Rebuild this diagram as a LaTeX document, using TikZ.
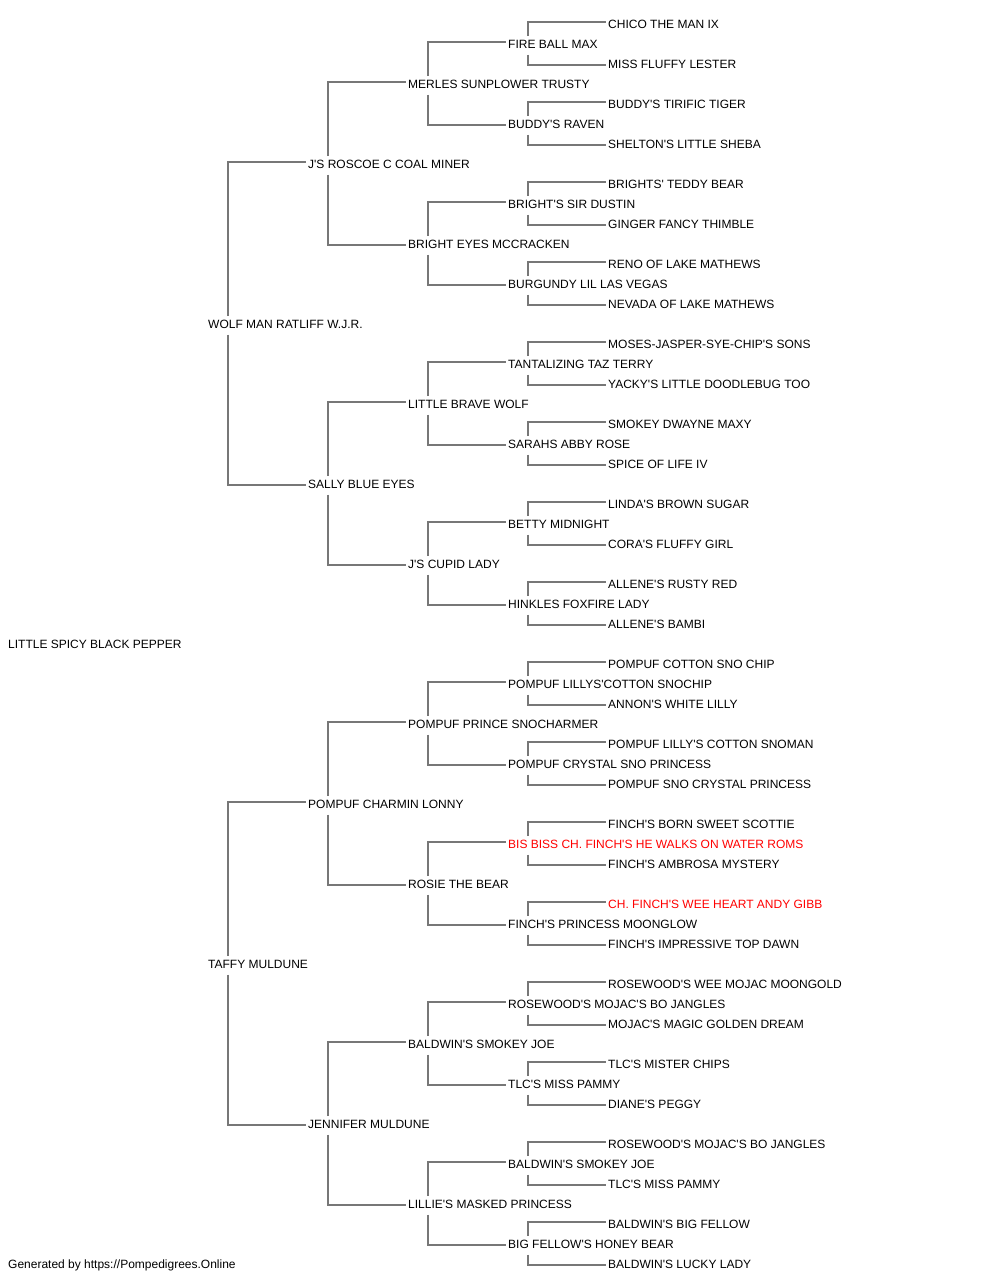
\documentclass[tikz,border=0pt]{standalone}
\usepackage{fontspec}
\setmainfont{Liberation Sans}[Ligatures=TeXOff]
\usepackage{tikz}
\usetikzlibrary{positioning}
\definecolor{linegray}{RGB}{119,119,119}
\definecolor{champred}{RGB}{255,0,0}

\begin{document}
\begin{tikzpicture}[
    x=1pt, y=-1pt,
    dog/.style={anchor=west, yshift=-1.3pt, inner xsep=2pt, inner ysep=2pt, text height=10pt, text depth=4pt, font=\fontsize{12}{14}\selectfont},
    champ/.style={dog, text=champred},
    link/.style={draw=linegray, line width=2pt},
    sire/.style={yshift=3.3pt}
]
    \useasboundingbox (0,0) rectangle (1000,1280);

    % Generation 0 and 1
    \node[dog] (pepper) at (6,644) {LITTLE SPICY BLACK PEPPER};
    \node[dog] (wolfman) at (206,324) {WOLF MAN RATLIFF W.J.R.};
    \node[dog] (taffy) at (206,964) {TAFFY MULDUNE};

    % Generation 2
    \node[dog] (roscoe) at (306,164) {J'S ROSCOE C COAL MINER};
    \node[dog] (sally) at (306,484) {SALLY BLUE EYES};
    \node[dog] (lonny) at (306,804) {POMPUF CHARMIN LONNY};
    \node[dog] (jennifer) at (306,1124) {JENNIFER MULDUNE};

    % Generation 3
    \node[dog] (merles) at (406,84) {MERLES SUNPLOWER TRUSTY};
    \node[dog] (brighteyes) at (406,244) {BRIGHT EYES MCCRACKEN};
    \node[dog] (bravewolf) at (406,404) {LITTLE BRAVE WOLF};
    \node[dog] (cupid) at (406,564) {J'S CUPID LADY};
    \node[dog] (snocharmer) at (406,724) {POMPUF PRINCE SNOCHARMER};
    \node[dog] (rosie) at (406,884) {ROSIE THE BEAR};
    \node[dog] (smokeyjoe) at (406,1044) {BALDWIN'S SMOKEY JOE};
    \node[dog] (lillie) at (406,1204) {LILLIE'S MASKED PRINCESS};

    % Generation 4
    \node[dog] (fireball) at (506,44) {FIRE BALL MAX};
    \node[dog] (raven) at (506,124) {BUDDY'S RAVEN};
    \node[dog] (dustin) at (506,204) {BRIGHT'S SIR DUSTIN};
    \node[dog] (burgundy) at (506,284) {BURGUNDY LIL LAS VEGAS};
    \node[dog] (tantalizing) at (506,364) {TANTALIZING TAZ TERRY};
    \node[dog] (sarahs) at (506,444) {SARAHS ABBY ROSE};
    \node[dog] (betty) at (506,524) {BETTY MIDNIGHT};
    \node[dog] (hinkles) at (506,604) {HINKLES FOXFIRE LADY};
    \node[dog] (snochip) at (506,684) {POMPUF LILLYS'COTTON SNOCHIP};
    \node[dog] (crystal) at (506,764) {POMPUF CRYSTAL SNO PRINCESS};
    \node[champ] (walks) at (506,844) {BIS BISS CH. FINCH'S HE WALKS ON WATER ROMS};
    \node[dog] (moonglow) at (506,924) {FINCH'S PRINCESS MOONGLOW};
    \node[dog] (bojangles) at (506,1004) {ROSEWOOD'S MOJAC'S BO JANGLES};
    \node[dog] (pammy) at (506,1084) {TLC'S MISS PAMMY};
    \node[dog] (smokeyjoeb) at (506,1164) {BALDWIN'S SMOKEY JOE};
    \node[dog] (honeybear) at (506,1244) {BIG FELLOW'S HONEY BEAR};

    % Generation 5
    \node[dog] (chico) at (606,24) {CHICO THE MAN IX};
    \node[dog] (fluffy) at (606,64) {MISS FLUFFY LESTER};
    \node[dog] (tiger) at (606,104) {BUDDY'S TIRIFIC TIGER};
    \node[dog] (sheba) at (606,144) {SHELTON'S LITTLE SHEBA};
    \node[dog] (teddy) at (606,184) {BRIGHTS' TEDDY BEAR};
    \node[dog] (thimble) at (606,224) {GINGER FANCY THIMBLE};
    \node[dog] (reno) at (606,264) {RENO OF LAKE MATHEWS};
    \node[dog] (nevada) at (606,304) {NEVADA OF LAKE MATHEWS};
    \node[dog] (moses) at (606,344) {MOSES-JASPER-SYE-CHIP'S SONS};
    \node[dog] (yacky) at (606,384) {YACKY'S LITTLE DOODLEBUG TOO};
    \node[dog] (maxy) at (606,424) {SMOKEY DWAYNE MAXY};
    \node[dog] (spice) at (606,464) {SPICE OF LIFE IV};
    \node[dog] (linda) at (606,504) {LINDA'S BROWN SUGAR};
    \node[dog] (cora) at (606,544) {CORA'S FLUFFY GIRL};
    \node[dog] (rustyred) at (606,584) {ALLENE'S RUSTY RED};
    \node[dog] (bambi) at (606,624) {ALLENE'S BAMBI};
    \node[dog] (cottonchip) at (606,664) {POMPUF COTTON SNO CHIP};
    \node[dog] (annon) at (606,704) {ANNON'S WHITE LILLY};
    \node[dog] (snoman) at (606,744) {POMPUF LILLY'S COTTON SNOMAN};
    \node[dog] (snocrystal) at (606,784) {POMPUF SNO CRYSTAL PRINCESS};
    \node[dog] (scottie) at (606,824) {FINCH'S BORN SWEET SCOTTIE};
    \node[dog] (ambrosa) at (606,864) {FINCH'S AMBROSA MYSTERY};
    \node[champ] (andygibb) at (606,904) {CH. FINCH'S WEE HEART ANDY GIBB};
    \node[dog] (topdawn) at (606,944) {FINCH'S IMPRESSIVE TOP DAWN};
    \node[dog] (moongold) at (606,984) {ROSEWOOD'S WEE MOJAC MOONGOLD};
    \node[dog] (golddream) at (606,1024) {MOJAC'S MAGIC GOLDEN DREAM};
    \node[dog] (misterchips) at (606,1064) {TLC'S MISTER CHIPS};
    \node[dog] (peggy) at (606,1104) {DIANE'S PEGGY};
    \node[dog] (bojanglesb) at (606,1144) {ROSEWOOD'S MOJAC'S BO JANGLES};
    \node[dog] (pammyb) at (606,1184) {TLC'S MISS PAMMY};
    \node[dog] (bigfellow) at (606,1224) {BALDWIN'S BIG FELLOW};
    \node[dog] (luckylady) at (606,1264) {BALDWIN'S LUCKY LADY};

    % Footer
    \node[dog] (credit) at (6,1264) {Generated by https://Pompedigrees.Online};

    % Links gen 1 -> gen 2
    \draw[link] ([xshift=22pt]wolfman.north west) |- ([sire]roscoe.west);
    \draw[link] ([xshift=22pt]wolfman.south west) |- (sally.west);
    \draw[link] ([xshift=22pt]taffy.north west) |- ([sire]lonny.west);
    \draw[link] ([xshift=22pt]taffy.south west) |- (jennifer.west);

    % Links gen 2 -> gen 3
    \draw[link] ([xshift=22pt]roscoe.north west) |- ([sire]merles.west);
    \draw[link] ([xshift=22pt]roscoe.south west) |- (brighteyes.west);
    \draw[link] ([xshift=22pt]sally.north west) |- ([sire]bravewolf.west);
    \draw[link] ([xshift=22pt]sally.south west) |- (cupid.west);
    \draw[link] ([xshift=22pt]lonny.north west) |- ([sire]snocharmer.west);
    \draw[link] ([xshift=22pt]lonny.south west) |- (rosie.west);
    \draw[link] ([xshift=22pt]jennifer.north west) |- ([sire]smokeyjoe.west);
    \draw[link] ([xshift=22pt]jennifer.south west) |- (lillie.west);

    % Links gen 3 -> gen 4
    \draw[link] ([xshift=22pt]merles.north west) |- ([sire]fireball.west);
    \draw[link] ([xshift=22pt]merles.south west) |- (raven.west);
    \draw[link] ([xshift=22pt]brighteyes.north west) |- ([sire]dustin.west);
    \draw[link] ([xshift=22pt]brighteyes.south west) |- (burgundy.west);
    \draw[link] ([xshift=22pt]bravewolf.north west) |- ([sire]tantalizing.west);
    \draw[link] ([xshift=22pt]bravewolf.south west) |- (sarahs.west);
    \draw[link] ([xshift=22pt]cupid.north west) |- ([sire]betty.west);
    \draw[link] ([xshift=22pt]cupid.south west) |- (hinkles.west);
    \draw[link] ([xshift=22pt]snocharmer.north west) |- ([sire]snochip.west);
    \draw[link] ([xshift=22pt]snocharmer.south west) |- (crystal.west);
    \draw[link] ([xshift=22pt]rosie.north west) |- ([sire]walks.west);
    \draw[link] ([xshift=22pt]rosie.south west) |- (moonglow.west);
    \draw[link] ([xshift=22pt]smokeyjoe.north west) |- ([sire]bojangles.west);
    \draw[link] ([xshift=22pt]smokeyjoe.south west) |- (pammy.west);
    \draw[link] ([xshift=22pt]lillie.north west) |- ([sire]smokeyjoeb.west);
    \draw[link] ([xshift=22pt]lillie.south west) |- (honeybear.west);

    % Links gen 4 -> gen 5
    \draw[link] ([xshift=22pt]fireball.north west) |- ([sire]chico.west);
    \draw[link] ([xshift=22pt]fireball.south west) |- (fluffy.west);
    \draw[link] ([xshift=22pt]raven.north west) |- ([sire]tiger.west);
    \draw[link] ([xshift=22pt]raven.south west) |- (sheba.west);
    \draw[link] ([xshift=22pt]dustin.north west) |- ([sire]teddy.west);
    \draw[link] ([xshift=22pt]dustin.south west) |- (thimble.west);
    \draw[link] ([xshift=22pt]burgundy.north west) |- ([sire]reno.west);
    \draw[link] ([xshift=22pt]burgundy.south west) |- (nevada.west);
    \draw[link] ([xshift=22pt]tantalizing.north west) |- ([sire]moses.west);
    \draw[link] ([xshift=22pt]tantalizing.south west) |- (yacky.west);
    \draw[link] ([xshift=22pt]sarahs.north west) |- ([sire]maxy.west);
    \draw[link] ([xshift=22pt]sarahs.south west) |- (spice.west);
    \draw[link] ([xshift=22pt]betty.north west) |- ([sire]linda.west);
    \draw[link] ([xshift=22pt]betty.south west) |- (cora.west);
    \draw[link] ([xshift=22pt]hinkles.north west) |- ([sire]rustyred.west);
    \draw[link] ([xshift=22pt]hinkles.south west) |- (bambi.west);
    \draw[link] ([xshift=22pt]snochip.north west) |- ([sire]cottonchip.west);
    \draw[link] ([xshift=22pt]snochip.south west) |- (annon.west);
    \draw[link] ([xshift=22pt]crystal.north west) |- ([sire]snoman.west);
    \draw[link] ([xshift=22pt]crystal.south west) |- (snocrystal.west);
    \draw[link] ([xshift=22pt]walks.north west) |- ([sire]scottie.west);
    \draw[link] ([xshift=22pt]walks.south west) |- (ambrosa.west);
    \draw[link] ([xshift=22pt]moonglow.north west) |- ([sire]andygibb.west);
    \draw[link] ([xshift=22pt]moonglow.south west) |- (topdawn.west);
    \draw[link] ([xshift=22pt]bojangles.north west) |- ([sire]moongold.west);
    \draw[link] ([xshift=22pt]bojangles.south west) |- (golddream.west);
    \draw[link] ([xshift=22pt]pammy.north west) |- ([sire]misterchips.west);
    \draw[link] ([xshift=22pt]pammy.south west) |- (peggy.west);
    \draw[link] ([xshift=22pt]smokeyjoeb.north west) |- ([sire]bojanglesb.west);
    \draw[link] ([xshift=22pt]smokeyjoeb.south west) |- (pammyb.west);
    \draw[link] ([xshift=22pt]honeybear.north west) |- ([sire]bigfellow.west);
    \draw[link] ([xshift=22pt]honeybear.south west) |- (luckylady.west);
\end{tikzpicture}
\end{document}
